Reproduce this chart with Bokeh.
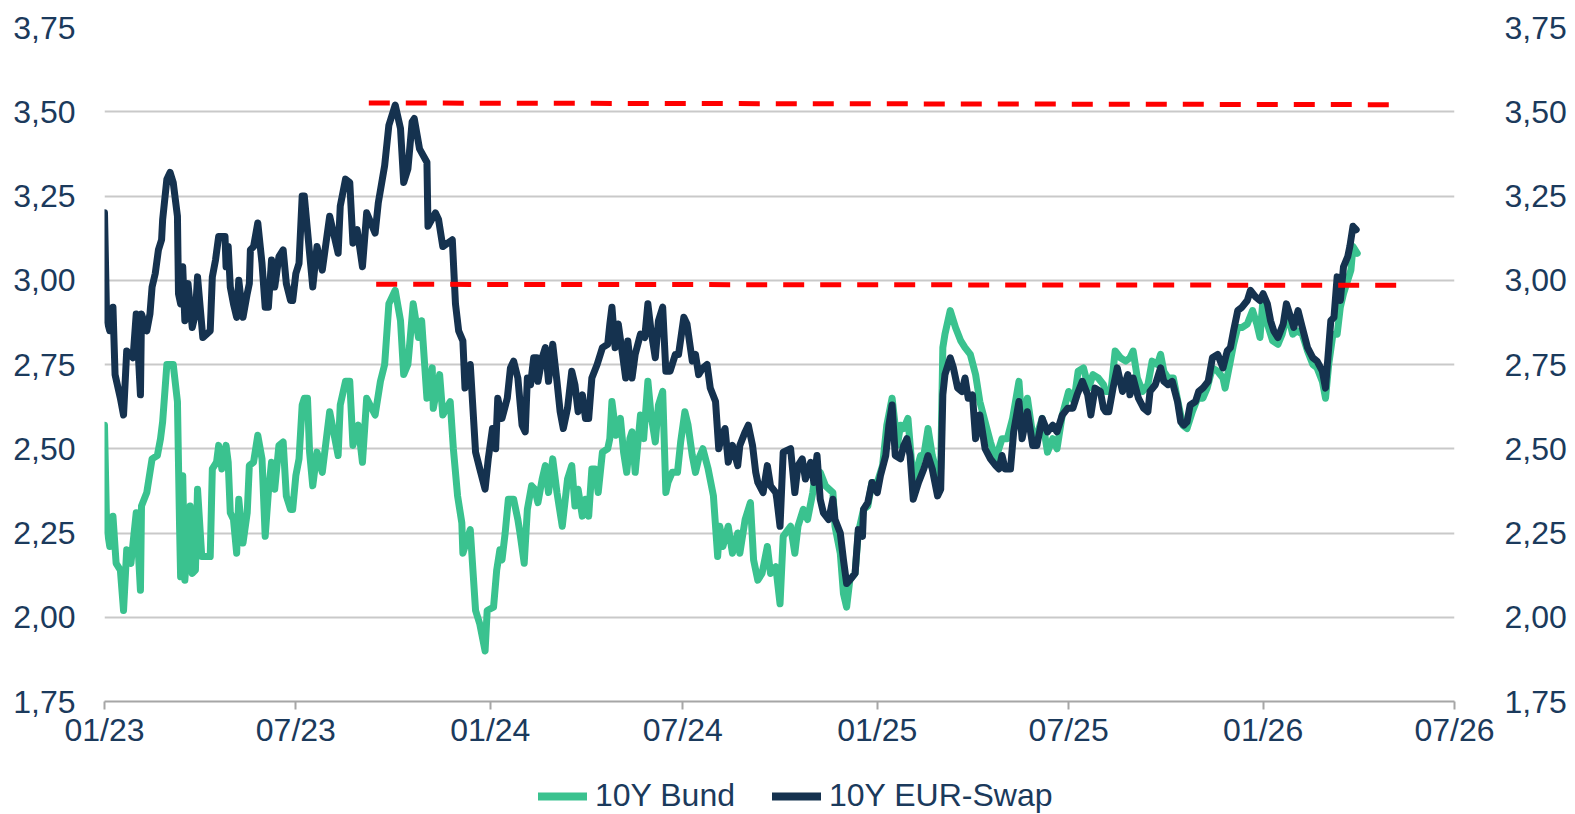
import pandas as pd
from bokeh.plotting import figure
from bokeh.layouts import column
from bokeh.models import (Range1d, LinearAxis, FixedTicker, CustomJSTickFormatter,
                          Legend, LegendItem)
from bokeh.embed import file_html
from bokeh.resources import INLINE

# ---------------- data ----------------
BASE_DATE = "2023-01-01"  # day offsets below are days after this date

swap_days = [0, 2, 5, 8, 10, 15, 18, 21, 27, 30, 34, 35, 40, 43, 45, 48, 51, 54, 55, 59, 62, 65, 69, 70, 72, 74, 76, 79, 83, 86,
             88, 93, 100, 102, 105, 108, 114, 115, 117, 119, 122, 125, 127, 131, 135, 137, 138, 141, 145, 149, 152, 155, 158, 161, 165, 169, 172, 176, 178, 181,
             184, 187, 189, 194, 197, 201, 206, 213, 221, 223, 228, 232, 235, 239, 244, 248, 256, 259, 265, 269, 275, 280, 283, 287, 291, 293, 298, 305, 306, 313,
             316, 320, 329, 332, 335, 339, 341, 346, 351, 355, 360, 363, 367, 370, 372, 376, 381, 384, 387, 391, 395, 398, 400, 403, 406, 409, 410, 414, 417, 420,
             424, 428, 431, 434, 438, 442, 445, 448, 452, 455, 458, 461, 466, 471, 476, 478, 480, 483, 486, 490, 493, 495, 499, 502, 507, 511, 514, 517, 521, 524,
             528, 531, 535, 540, 543, 548, 551, 556, 559, 562, 566, 570, 573, 578, 581, 584, 587, 590, 594, 599, 601, 606, 609, 613, 616, 618, 623, 627, 630, 635,
             636, 639, 642, 649, 653, 656, 660, 663, 668, 671, 674, 677, 680, 685, 689, 691, 696, 699, 702, 705, 710, 713, 717, 718, 722, 726, 731, 734, 739, 742,
             745, 748, 753, 756, 759, 762, 765, 770, 775, 779, 783, 788, 791, 793, 795, 800, 803, 807, 811, 814, 817, 821, 824, 828, 833, 838, 843, 846, 849, 852,
             857, 860, 865, 868, 873, 878, 882, 887, 892, 897, 901, 906, 911, 916, 920, 925, 930, 933, 937, 942, 945, 947, 950, 954, 958, 963, 968, 970, 973, 978,
             983, 987, 989, 994, 999, 1002, 1006, 1010, 1015, 1018, 1021, 1024, 1027, 1032, 1035, 1039, 1044, 1048, 1053, 1058, 1062, 1065, 1068, 1072, 1076, 1081, 1084, 1089, 1093, 1096,
             1100, 1103, 1106, 1110, 1115, 1118, 1122, 1125, 1129, 1133, 1138, 1143, 1147, 1152, 1155, 1158, 1160, 1163, 1166, 1169, 1172, 1176, 1178, 1181, 1184]
swap_vals = [3.20, 2.885, 2.85, 2.92, 2.72, 2.65, 2.60, 2.79, 2.77, 2.90, 2.66, 2.90, 2.85, 2.90, 2.98, 3.02, 3.09, 3.12, 3.18, 3.30, 3.32, 3.29, 3.19, 2.96, 2.93, 3.04, 2.88, 2.99, 2.86, 2.90,
             3.01, 2.83, 2.85, 3.01, 3.06, 3.13, 3.13, 3.04, 3.10, 2.98, 2.93, 2.89, 3.00, 2.89, 2.96, 2.99, 3.09, 3.10, 3.17, 3.05, 2.92, 2.92, 3.06, 2.98, 3.07, 3.09, 2.99, 2.94, 2.94, 3.02,
             3.05, 3.25, 3.25, 3.08, 2.98, 3.10, 3.03, 3.19, 3.08, 3.22, 3.30, 3.29, 3.11, 3.15, 3.04, 3.20, 3.14, 3.23, 3.34, 3.46, 3.52, 3.45, 3.29, 3.33, 3.47, 3.48, 3.39, 3.35, 3.16, 3.20,
             3.18, 3.10, 3.12, 2.93, 2.85, 2.82, 2.68, 2.75, 2.49, 2.44, 2.38, 2.47, 2.56, 2.50, 2.65, 2.59, 2.65, 2.74, 2.76, 2.71, 2.57, 2.55, 2.71, 2.69, 2.77, 2.77, 2.70, 2.77, 2.80, 2.70,
             2.81, 2.70, 2.61, 2.56, 2.62, 2.73, 2.69, 2.61, 2.66, 2.59, 2.59, 2.71, 2.75, 2.80, 2.81, 2.87, 2.92, 2.80, 2.87, 2.78, 2.71, 2.82, 2.71, 2.78, 2.84, 2.83, 2.93, 2.85, 2.77, 2.88,
             2.92, 2.73, 2.73, 2.78, 2.78, 2.89, 2.87, 2.76, 2.78, 2.72, 2.74, 2.75, 2.68, 2.64, 2.50, 2.54, 2.56, 2.46, 2.51, 2.45, 2.51, 2.55, 2.57, 2.51, 2.43, 2.40, 2.37, 2.45, 2.39, 2.37,
             2.35, 2.27, 2.49, 2.50, 2.37, 2.45, 2.47, 2.41, 2.46, 2.40, 2.48, 2.35, 2.31, 2.29, 2.35, 2.29, 2.25, 2.17, 2.10, 2.11, 2.13, 2.26, 2.24, 2.32, 2.34, 2.40, 2.37, 2.42, 2.48, 2.57,
             2.63, 2.48, 2.47, 2.51, 2.53, 2.48, 2.35, 2.40, 2.44, 2.48, 2.44, 2.36, 2.38, 2.66, 2.72, 2.77, 2.74, 2.68, 2.67, 2.71, 2.65, 2.66, 2.53, 2.60, 2.50, 2.47, 2.45, 2.44, 2.48, 2.44,
             2.44, 2.55, 2.64, 2.53, 2.61, 2.51, 2.51, 2.59, 2.55, 2.57, 2.55, 2.60, 2.62, 2.62, 2.66, 2.70, 2.66, 2.60, 2.68, 2.67, 2.62, 2.61, 2.61, 2.68, 2.74, 2.67, 2.72, 2.66, 2.71, 2.65,
             2.62, 2.61, 2.67, 2.69, 2.74, 2.70, 2.69, 2.70, 2.64, 2.58, 2.57, 2.58, 2.63, 2.64, 2.67, 2.68, 2.70, 2.77, 2.78, 2.74, 2.79, 2.80, 2.85, 2.91, 2.92, 2.94, 2.97, 2.95, 2.94, 2.96,
             2.93, 2.88, 2.85, 2.83, 2.87, 2.93, 2.89, 2.86, 2.91, 2.86, 2.80, 2.77, 2.76, 2.73, 2.68, 2.80, 2.88, 2.89, 3.01, 2.94, 3.04, 3.07, 3.10, 3.16, 3.15]

bund_days = [0, 2, 5, 8, 11, 15, 18, 21, 25, 30, 34, 35, 40, 45, 50, 53, 55, 59, 65, 69, 71, 72, 74, 76, 81, 83, 86, 88, 92, 100,
             102, 106, 108, 111, 115, 117, 119, 122, 125, 127, 131, 135, 137, 141, 145, 149, 152, 155, 158, 161, 165, 169, 172, 176, 178, 181, 184, 187, 189, 192,
             194, 197, 201, 206, 213, 221, 223, 228, 232, 235, 240, 244, 248, 256, 261, 265, 269, 275, 280, 283, 287, 292, 297, 300, 305, 310, 311, 317, 320, 327,
             330, 334, 338, 339, 346, 351, 355, 360, 362, 368, 371, 374, 376, 379, 382, 387, 391, 393, 397, 400, 404, 407, 410, 414, 417, 420, 424, 428, 433, 438,
             442, 445, 448, 452, 455, 458, 461, 464, 467, 471, 476, 478, 480, 484, 488, 491, 494, 497, 499, 502, 507, 510, 514, 517, 521, 524, 528, 531, 533, 537,
             542, 545, 549, 552, 556, 559, 562, 566, 571, 576, 580, 582, 585, 590, 594, 599, 601, 606, 611, 614, 618, 622, 627, 630, 635, 639, 642, 649, 653, 656,
             661, 665, 670, 672, 677, 682, 689, 691, 696, 699, 702, 705, 710, 713, 718, 722, 726, 731, 736, 740, 745, 750, 753, 756, 760, 765, 772, 775, 779, 783,
             788, 791, 793, 795, 800, 805, 810, 814, 819, 824, 828, 833, 838, 843, 849, 854, 859, 865, 868, 873, 878, 882, 887, 892, 897, 901, 906, 912, 917, 921,
             926, 931, 935, 940, 945, 947, 952, 956, 961, 966, 970, 973, 977, 982, 987, 991, 996, 999, 1002, 1006, 1011, 1016, 1020, 1024, 1029, 1034, 1039, 1043, 1048, 1053,
             1058, 1060, 1065, 1068, 1072, 1076, 1081, 1086, 1090, 1093, 1096, 1100, 1105, 1110, 1114, 1119, 1124, 1128, 1133, 1138, 1143, 1147, 1152, 1155, 1158, 1162, 1166, 1169, 1172, 1176,
             1179, 1181, 1185]
bund_vals = [2.57, 2.27, 2.21, 2.30, 2.16, 2.14, 2.02, 2.20, 2.16, 2.31, 2.08, 2.33, 2.37, 2.47, 2.48, 2.53, 2.58, 2.75, 2.75, 2.64, 2.27, 2.12, 2.42, 2.11, 2.33, 2.13, 2.14, 2.38, 2.18, 2.18,
             2.44, 2.46, 2.51, 2.44, 2.51, 2.46, 2.31, 2.29, 2.19, 2.35, 2.22, 2.31, 2.45, 2.46, 2.54, 2.47, 2.24, 2.37, 2.46, 2.38, 2.51, 2.52, 2.36, 2.32, 2.32, 2.42, 2.47, 2.63, 2.65, 2.65,
             2.49, 2.39, 2.49, 2.43, 2.61, 2.48, 2.63, 2.70, 2.70, 2.51, 2.57, 2.46, 2.65, 2.60, 2.70, 2.75, 2.93, 2.97, 2.88, 2.72, 2.75, 2.93, 2.83, 2.88, 2.65, 2.74, 2.62, 2.72, 2.60, 2.64,
             2.50, 2.36, 2.28, 2.19, 2.26, 2.02, 1.98, 1.90, 2.02, 2.03, 2.14, 2.20, 2.17, 2.25, 2.35, 2.35, 2.29, 2.25, 2.16, 2.32, 2.39, 2.38, 2.34, 2.41, 2.45, 2.37, 2.47, 2.37, 2.27, 2.41,
             2.45, 2.33, 2.38, 2.30, 2.35, 2.30, 2.44, 2.44, 2.37, 2.49, 2.50, 2.53, 2.64, 2.54, 2.59, 2.49, 2.43, 2.53, 2.55, 2.43, 2.60, 2.53, 2.70, 2.60, 2.52, 2.63, 2.67, 2.37, 2.40, 2.43,
             2.43, 2.52, 2.61, 2.57, 2.48, 2.43, 2.47, 2.50, 2.44, 2.36, 2.18, 2.27, 2.21, 2.27, 2.19, 2.25, 2.19, 2.29, 2.34, 2.17, 2.11, 2.13, 2.21, 2.13, 2.15, 2.04, 2.24, 2.27, 2.19, 2.27,
             2.32, 2.29, 2.37, 2.42, 2.43, 2.39, 2.37, 2.27, 2.19, 2.07, 2.03, 2.11, 2.13, 2.25, 2.32, 2.33, 2.40, 2.40, 2.45, 2.57, 2.65, 2.51, 2.57, 2.56, 2.59, 2.40, 2.48, 2.48, 2.56, 2.48,
             2.42, 2.44, 2.80, 2.84, 2.91, 2.86, 2.82, 2.80, 2.78, 2.72, 2.64, 2.58, 2.52, 2.47, 2.53, 2.53, 2.59, 2.70, 2.57, 2.65, 2.54, 2.54, 2.59, 2.49, 2.53, 2.50, 2.60, 2.67, 2.64, 2.73,
             2.74, 2.68, 2.72, 2.71, 2.69, 2.67, 2.67, 2.79, 2.77, 2.76, 2.77, 2.79, 2.71, 2.67, 2.69, 2.76, 2.75, 2.78, 2.73, 2.71, 2.71, 2.63, 2.57, 2.56, 2.61, 2.65, 2.65, 2.68, 2.74, 2.73,
             2.71, 2.68, 2.76, 2.81, 2.86, 2.86, 2.87, 2.91, 2.87, 2.83, 2.95, 2.87, 2.82, 2.81, 2.84, 2.90, 2.84, 2.85, 2.84, 2.79, 2.75, 2.74, 2.70, 2.65, 2.75, 2.84, 2.84, 2.92, 2.96, 3.00,
             3.03, 3.10, 3.08]

series_names = ["10Y Bund", "10Y EUR-Swap"]
series_colors = ["#3AC28F", "#15324F"]

upper_dates = ["2023-09-08", "2026-05-07"]
upper_vals = [3.526, 3.521]
lower_dates = ["2023-09-15", "2026-05-12"]
lower_vals = [2.988, 2.985]

y_ticks = [1.75, 2.00, 2.25, 2.50, 2.75, 3.00, 3.25, 3.50, 3.75]
x_tick_dates = ["2023-01-01", "2023-07-01", "2024-01-01", "2024-07-01",
                "2025-01-01", "2025-07-01", "2026-01-01", "2026-07-01"]
x_start, x_end = "2023-01-01", "2026-07-01"

# ---------------- build ----------------
base = pd.Timestamp(BASE_DATE)
swap_x = [base + pd.Timedelta(days=d) for d in swap_days]
bund_x = [base + pd.Timedelta(days=d) for d in bund_days]


def ms(d):
    return pd.Timestamp(d).value / 1e6


TEXT = "#1B3A5C"
FONT = "Liberation Sans"
FS = "32px"
LW = 7

p = figure(width=1575, height=774, x_axis_type="datetime",
           x_range=Range1d(ms(x_start), ms(x_end)), y_range=Range1d(1.75, 3.75),
           output_backend="svg", toolbar_location=None,
           min_border_left=104, min_border_right=121, min_border_top=27, min_border_bottom=73)
p.outline_line_color = None
p.background_fill_color = "white"
p.border_fill_color = "white"

p.xgrid.visible = False
p.ygrid.ticker = FixedTicker(ticks=y_ticks)
p.ygrid.grid_line_color = "#C9C9C9"
p.ygrid.grid_line_width = 1.8

p.line(bund_x, bund_vals, color=series_colors[0], line_width=LW,
       line_join="round", line_cap="round")
p.line(swap_x, swap_vals, color=series_colors[1], line_width=LW,
       line_join="round", line_cap="round")

p.line([pd.Timestamp(d) for d in upper_dates], upper_vals, color="#FF0000",
       line_width=5, line_dash="21 16")
p.line([pd.Timestamp(d) for d in lower_dates], lower_vals, color="#FF0000",
       line_width=5, line_dash="21 16")

yfmt = CustomJSTickFormatter(code="return tick.toFixed(2).replace('.', ',');")
xfmt = CustomJSTickFormatter(code="""
const d = new Date(tick);
const m = String(d.getUTCMonth() + 1).padStart(2, '0');
const y = String(d.getUTCFullYear() % 100).padStart(2, '0');
return m + '/' + y;""")

xa = p.xaxis[0]
xa.ticker = FixedTicker(ticks=[ms(d) for d in x_tick_dates])
xa.formatter = xfmt
xa.axis_line_color = "#A6A6A6"
xa.axis_line_width = 2
xa.major_tick_line_color = "#A6A6A6"
xa.major_tick_line_width = 2
xa.major_tick_out = 8
xa.major_tick_in = 0
xa.minor_tick_line_color = None
xa.major_label_standoff = 2
xa.major_label_text_font = FONT
xa.major_label_text_font_size = FS
xa.major_label_text_color = TEXT

ya = p.yaxis[0]
ya.ticker = FixedTicker(ticks=y_ticks)
ya.formatter = yfmt
ya.axis_line_color = None
ya.major_tick_line_color = None
ya.major_tick_out = 0
ya.major_tick_in = 0
ya.minor_tick_line_color = None
ya.major_label_standoff = 29
ya.major_label_text_font = FONT
ya.major_label_text_font_size = FS
ya.major_label_text_color = TEXT

ra = LinearAxis(ticker=FixedTicker(ticks=y_ticks), formatter=yfmt)
ra.axis_line_color = None
ra.major_tick_line_color = None
ra.major_tick_out = 0
ra.major_tick_in = 0
ra.minor_tick_line_color = None
ra.major_label_standoff = 50
ra.major_label_text_font = FONT
ra.major_label_text_font_size = FS
ra.major_label_text_color = TEXT
p.add_layout(ra, "right")

# ---------------- legend strip (frame aligned with the chart's frame) ----------------
lg = figure(width=1575, height=40, x_range=Range1d(0, 1), y_range=Range1d(0, 1),
            output_backend="svg", toolbar_location=None,
            x_axis_location=None, y_axis_location=None,
            min_border_left=0, min_border_right=0, min_border_top=0, min_border_bottom=0)
lg.outline_line_color = None
lg.grid.visible = False
# renderers placed outside the visible range, used only for the legend glyphs
lr_bund = lg.line(x=[5, 6], y=[5, 5], color=series_colors[0], line_width=LW + 1, line_cap="round")
lr_swap = lg.line(x=[5, 6], y=[5, 5], color=series_colors[1], line_width=LW + 1, line_cap="round")

legend = Legend(items=[LegendItem(label=series_names[0], renderers=[lr_bund]),
                       LegendItem(label=series_names[1], renderers=[lr_swap])],
                location=(434, 0), orientation="horizontal")
legend.border_line_color = None
legend.background_fill_alpha = 0
legend.padding = 0
legend.margin = 0
legend.spacing = 37
legend.glyph_width = 49
legend.glyph_height = 30
legend.label_standoff = 8
legend.label_text_font = FONT
legend.label_text_font_size = FS
legend.label_text_color = TEXT
lg.add_layout(legend)

layout = column(p, lg, spacing=0)

open("out.html", "w").write(file_html(layout, INLINE))
